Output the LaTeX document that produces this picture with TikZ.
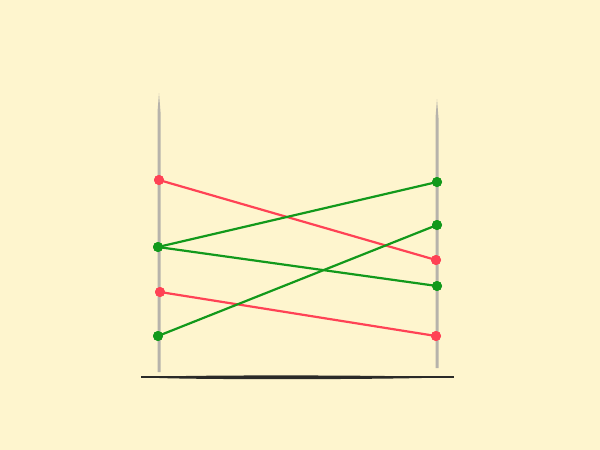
\documentclass[tikz,border=0pt]{standalone}
\definecolor{bg}{HTML}{FEF5CE}
\definecolor{pole}{HTML}{B7B3AB}
\definecolor{rd}{HTML}{FF4255}
\definecolor{gn}{HTML}{12991B}
\definecolor{bar}{HTML}{2A2A28}
\begin{document}
\begin{tikzpicture}[x=1pt,y=-1pt,
  dotr/.style={circle,fill=rd,inner sep=0pt,minimum size=10pt},
  dotg/.style={circle,fill=gn,inner sep=0pt,minimum size=10pt},
  lr/.style={rd,line width=2.2pt},
  lg/.style={gn,line width=2.2pt}]
\fill[bg] (0,0) rectangle (600,450);
\useasboundingbox (0,0) rectangle (600,450);
% poles
\fill[pole] (157.5,372) -- (160.5,372) -- (160.5,112) -- (159,93) -- (157.5,112) -- cycle;
\fill[pole] (435.5,368) -- (438.5,368) -- (438.5,118) -- (437,99) -- (435.5,118) -- cycle;
% base
\draw[bar,line width=2pt] (141,377.3) -- (454,377.3);
\fill[bar] (148,377.3) .. controls (165,374.8) and (385,374.8) .. (445,377.3) .. controls (385,379.8) and (165,379.8) .. (148,377.3) -- cycle;
% nodes
\node[dotr] (l1) at (159,180) {};
\node[dotg] (l2) at (158,247) {};
\node[dotr] (l3) at (160,292) {};
\node[dotg] (l4) at (158,336) {};
\node[dotg] (r1) at (437,182) {};
\node[dotg] (r2) at (437,225) {};
\node[dotr] (r3) at (436,260) {};
\node[dotg] (r4) at (437,286) {};
\node[dotr] (r5) at (436,336) {};
% connectors
\draw[lr] (l1.center) -- (r3.center);
\draw[lr] (l3.center) -- (r5.center);
\draw[lg] (l2.center) -- (r1.center);
\draw[lg] (l2.center) -- (r4.center);
\draw[lg] (l4.center) -- (r2.center);
% redraw dots on top
\foreach \n/\c in {l1/rd,l2/gn,l3/rd,l4/gn,r1/gn,r2/gn,r3/rd,r4/gn,r5/rd}
  \fill[\c] (\n.center) circle (5pt);
\end{tikzpicture}
\end{document}
